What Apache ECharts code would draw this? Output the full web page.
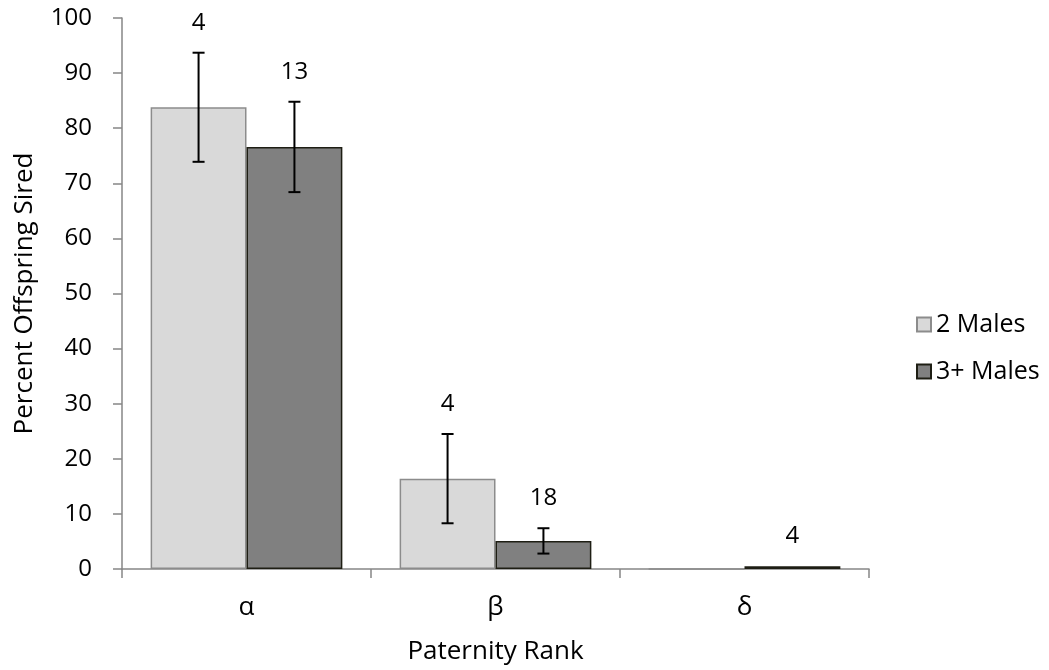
<!DOCTYPE html>
<html>
<head>
<meta charset="utf-8">
<script src="https://cdn.jsdelivr.net/npm/echarts@6/dist/echarts.min.js"></script>
<style>
  html, body { margin: 0; padding: 0; background: #fff; }
  #chart { width: 1049px; height: 670px; }
</style>
</head>
<body>
<div id="chart"></div>
<script>
// Paternity rank categories and per-group means, error half-widths and sample sizes
const categories = ['α', 'β', 'δ'];
const twoMales = [83.8, 16.4, 0];
const twoMalesErr = [9.9, 8.1, 0];
const twoMalesN = ['4', '4', ''];
const threeMales = [76.6, 5.1, 0.5];
const threeMalesErr = [8.2, 2.3, 0];
const threeMalesN = ['13', '18', '4'];
const yTicks = [0, 10, 20, 30, 40, 50, 60, 70, 80, 90, 100];

const FONT = '"Open Sans", "Noto Sans", sans-serif';
const CAT_GAP = 0.23;

// Error bar + sample-size label rows: [categoryIndex, mean, err, groupIndex, label]
const errRows = [];
categories.forEach((c, i) => {
  errRows.push([i, twoMales[i], twoMalesErr[i], 0, twoMalesN[i]]);
  errRows.push([i, threeMales[i], threeMalesErr[i], 1, threeMalesN[i]]);
});

function renderErr(params, api) {
  const ci = api.value(0), mean = api.value(1), err = api.value(2), g = api.value(3);
  const label = errRows[params.dataIndex][4];
  const catW = api.size([1, 0])[0];
  const barW = catW * (1 - CAT_GAP) / 2;
  const c = api.coord([ci, mean]);
  const x = c[0] + (g - 0.5) * barW;
  const children = [];
  let topY = c[1];
  if (err > 0) {
    const hi = api.coord([ci, mean + err])[1];
    const lo = api.coord([ci, mean - err])[1];
    topY = hi;
    const st = { stroke: '#000', lineWidth: 2 };
    children.push({ type: 'line', shape: { x1: x, y1: hi, x2: x, y2: lo }, style: st });
    children.push({ type: 'line', shape: { x1: x - 6, y1: hi, x2: x + 6, y2: hi }, style: st });
    children.push({ type: 'line', shape: { x1: x - 6, y1: lo, x2: x + 6, y2: lo }, style: st });
  }
  if (label) {
    children.push({
      type: 'text',
      style: {
        text: label, x: x, y: topY - 30,
        align: 'center', verticalAlign: 'middle',
        fill: '#000', font: '24px ' + FONT
      }
    });
  }
  return { type: 'group', children: children };
}

const chart = echarts.init(document.getElementById('chart'), null, { renderer: 'canvas' });
chart.setOption({
  animation: false,
  backgroundColor: '#fff',
  grid: { left: 122, right: 180, top: 18, bottom: 100, containLabel: false },
  legend: {
    orient: 'vertical',
    left: 911,
    top: 307,
    icon: 'rect',
    itemWidth: 14,
    itemHeight: 14,
    itemGap: 22,
    textStyle: { fontFamily: FONT, fontSize: 25, color: '#000' },
    data: ['2 Males', '3+ Males']
  },
  xAxis: {
    type: 'category',
    data: categories,
    name: 'Paternity Rank',
    nameLocation: 'middle',
    nameGap: 70,
    nameTextStyle: { fontFamily: FONT, fontSize: 26, color: '#000' },
    axisLine: { lineStyle: { color: '#868686', width: 1.5 } },
    axisTick: { show: true, length: 9, lineStyle: { color: '#868686', width: 1.5 } },
    axisLabel: { fontFamily: FONT, fontSize: 26, color: '#000', margin: 26 },
    splitLine: { show: false }
  },
  yAxis: {
    type: 'value',
    min: 0, max: 100, interval: 10,
    name: 'Percent Offspring Sired',
    nameLocation: 'middle',
    nameGap: 84,
    nameTextStyle: { fontFamily: FONT, fontSize: 26, color: '#000' },
    axisLine: { show: true, lineStyle: { color: '#868686', width: 1.5 } },
    axisTick: { show: true, length: 9, lineStyle: { color: '#868686', width: 1.5 } },
    axisLabel: {
      fontFamily: FONT, fontSize: 24, color: '#000', margin: 30,
      formatter: v => yTicks.includes(v) ? String(v) : ''
    },
    splitLine: { show: false }
  },
  series: [
    {
      name: '2 Males',
      type: 'bar',
      data: twoMales,
      barGap: '0%',
      barCategoryGap: (CAT_GAP * 100) + '%',
      itemStyle: { color: '#d9d9d9', borderColor: '#8c8c8c', borderWidth: 1.5 }
    },
    {
      name: '3+ Males',
      type: 'bar',
      data: threeMales,
      barGap: '0%',
      barCategoryGap: (CAT_GAP * 100) + '%',
      itemStyle: { color: '#808080', borderColor: '#1e1e14', borderWidth: 1.5 }
    },
    {
      name: 'err',
      type: 'custom',
      renderItem: renderErr,
      data: errRows.map(r => [r[0], r[1], r[2], r[3]]),
      encode: { x: 0, y: 1 },
      z: 10,
      silent: true
    }
  ]
});
</script>
</body>
</html>
